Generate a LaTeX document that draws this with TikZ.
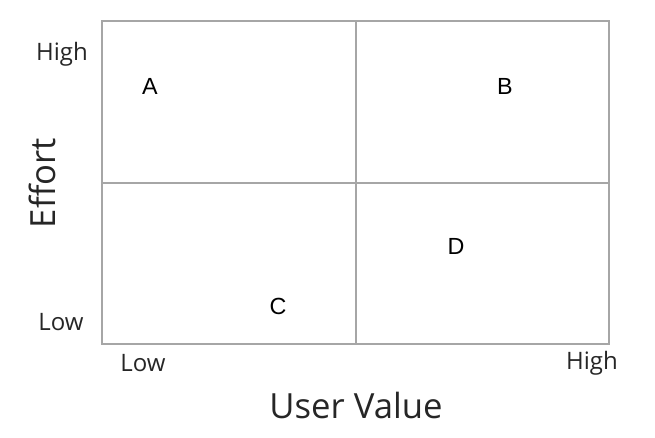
\documentclass[tikz,border=0pt]{standalone}
\usepackage{fontspec}
\setmainfont{Open Sans}
\newfontfamily\letterfont{Liberation Sans}
\usetikzlibrary{positioning}
\definecolor{gridgray}{HTML}{A6A6A6}

\begin{document}
\begin{tikzpicture}[x=0.75pt, y=-0.75pt,
    axislabel/.style={font=\fontsize{26}{28}\selectfont, text=black!85},
    ticklabel/.style={font=\fontsize{18}{20}\selectfont, text=black!85},
    item/.style={font=\letterfont\fontsize{17.5}{19}\selectfont}]
    \useasboundingbox (0,0) rectangle (655,437);
    \node[draw=gridgray, line width=1.5pt, minimum width=380.25pt, minimum height=242.25pt, inner sep=0pt] (grid) at (355.5,182.5) {};
    \draw[gridgray, line width=1.5pt] (grid.north) -- (grid.south);
    \draw[gridgray, line width=1.5pt] (grid.west) -- (grid.east);

    \node[ticklabel] (yhigh) at (62,54) {High};
    \node[ticklabel] (ylow) at (61,322) {Low};
    \node[ticklabel] (xlow) at (143,363) {Low};
    \node[ticklabel] (xhigh) at (592,363) {High};
    \node[axislabel, rotate=90] (yaxis) at (42,183) {Effort};
    \node[axislabel] (xaxis) at (356,405) {User Value};

    \node[item] (A) at (150,86) {A};
    \node[item] (B) at (505,86) {B};
    \node[item] (C) at (278,306) {C};
    \node[item] (D) at (456,246) {D};
\end{tikzpicture}
\end{document}
